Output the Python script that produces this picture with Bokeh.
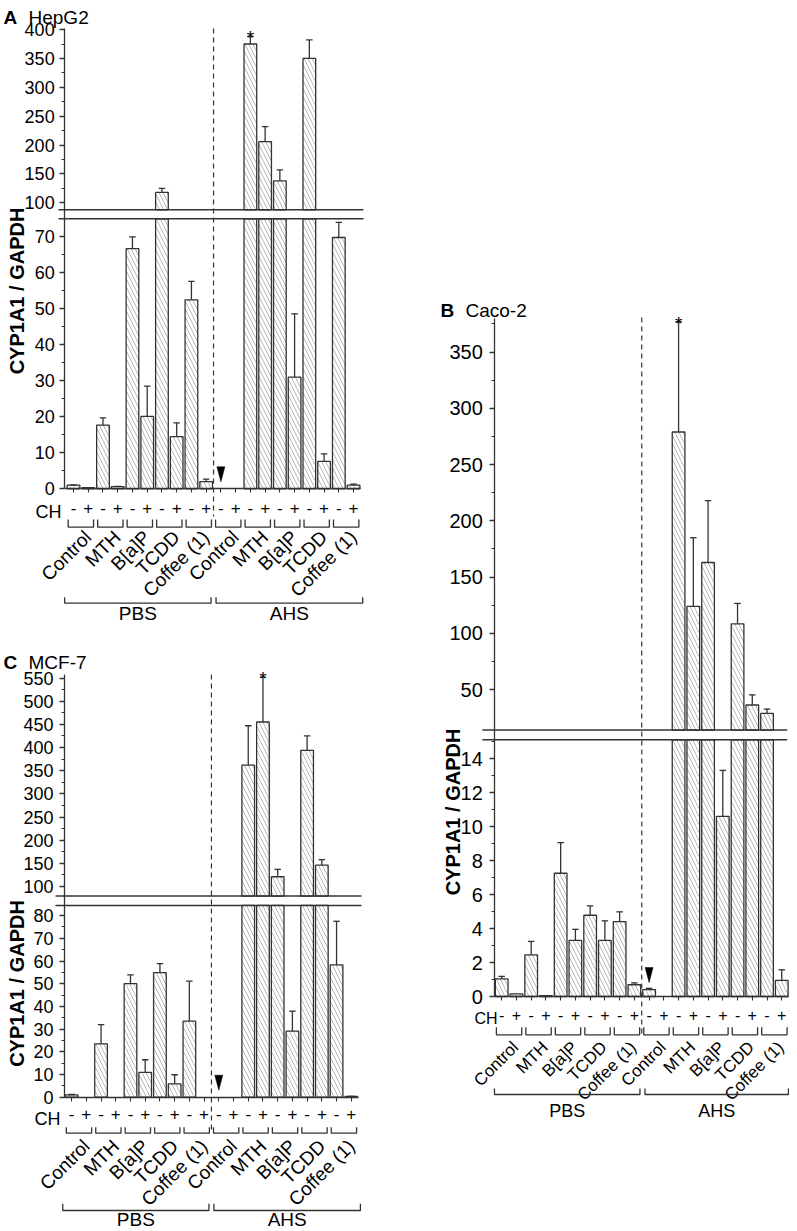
import math
from bokeh.plotting import figure
from bokeh.models import LinearAxis, FixedTicker, Range1d, Spacer
from bokeh.layouts import row, column
from bokeh.embed import file_html
from bokeh.resources import INLINE
from bokeh.core.properties import value

# ---------------- data ----------------
TREATMENTS = ["Control", "MTH", "B[a]P", "TCDD", "Coffee (1)"]
MEDIA = ["PBS", "AHS"]
CH_SIGNS = ["-", "+"]
CH_LABEL = "CH"
Y_LABEL = "CYP1A1 / GAPDH"

# bar order: PBS Control -, +, MTH -, +, B[a]P -, +, TCDD -, +, Coffee -, +, then the same for AHS
HEPG2_MEAN = [1.0, 0.3, 17.7, 0.6, 66.7, 20.1, 118, 14.5, 52.5, 2.0,
              0, 0, 375, 206, 138, 31, 350, 7.6, 69.8, 1.0]
HEPG2_ERR = [1.1, 0.35, 19.7, 0.7, 70.0, 28.5, 125, 18.3, 57.6, 2.7,
             0, 0, 388, 232, 157, 48.6, 382, 9.7, 74, 1.3]
HEPG2_TICKS_LOW = [0, 10, 20, 30, 40, 50, 60, 70]
HEPG2_TICKS_HIGH = [100, 150, 200, 250, 300, 350, 400]
HEPG2_MINOR_LOW = [5, 15, 25, 35, 45, 55, 65, 75]
HEPG2_MINOR_HIGH = [125, 175, 225, 275, 325, 375]
HEPG2_SIGNIF = [12]
HEPG2_ARROW = [10]

CACO2_MEAN = [1.04, 0.16, 2.45, 0.05, 7.25, 3.3, 4.78, 3.3, 4.41, 0.69,
              0.41, 0, 279, 124, 163, 10.6, 108.5, 36.3, 28.8, 0.95]
CACO2_ERR = [1.18, 0.16, 3.24, 0.05, 9.05, 3.95, 5.33, 4.45, 4.98, 0.8,
             0.48, 0, 377, 185, 218, 13.3, 126.6, 45.3, 32.7, 1.57]
CACO2_TICKS_LOW = [0, 2, 4, 6, 8, 10, 12, 14]
CACO2_TICKS_HIGH = [50, 100, 150, 200, 250, 300, 350]
CACO2_MINOR_LOW = [1, 3, 5, 7, 9, 11, 13, 15]
CACO2_MINOR_HIGH = [75, 125, 175, 225, 275, 325, 375]
CACO2_SIGNIF = [12]
CACO2_ARROW = [10]

MCF7_MEAN = [1.0, 0, 23.5, 0, 50.0, 10.9, 54.9, 5.9, 33.5, 0,
             0, 0, 362, 455, 121, 29.1, 394, 146, 58.3, 0.3]
MCF7_ERR = [1.2, 0, 32, 0, 53.9, 16.5, 58.8, 9.9, 51.1, 0,
            0, 0, 447, 552, 137, 37.9, 425, 158, 77.5, 0.4]
MCF7_TICKS_LOW = [0, 10, 20, 30, 40, 50, 60, 70, 80]
MCF7_TICKS_HIGH = [100, 150, 200, 250, 300, 350, 400, 450, 500, 550]
MCF7_MINOR_LOW = [5, 15, 25, 35, 45, 55, 65, 75]
MCF7_MINOR_HIGH = [125, 175, 225, 275, 325, 375, 425, 475, 525]
MCF7_SIGNIF = [13]
MCF7_ARROW = [10]

# ---------------- style / layout ----------------
FONT = "Liberation Sans"
INK = "#333333"

LAYOUT_A = dict(W=400, H=626, Fx=0, Fy=0, X0=73, S=14.74, Yb=488.3,
                lo_s=3.6, lo_max=75, gap=9, hi_min=88, hi_s=0.5777, axis_top=401,
                axis_x=-0.6, xaxis_end=19.47, break_x=(-1.02, 19.67),
                dash_top=28, dash_bot=516, ch_ry=511.7, ch_label_rx=61, sign_standoff=9,
                pb_top=519, pb_bot=526.7, lab_dx=0.48, lab_ry=533.5,
                grp=((-0.6, 9.33), (9.67, 19.62)), gb_top=596.7, gb_bot=602.7, gt_ry=613,
                t_rx=3, n_rx=28, t_ry=16.5, yl_rx=16, yl_ry=290.5, standoff=5,
                tick_fs="18px", ch_fs="18px", sign_fs="17px", lab_fs="19px", grp_fs="19px",
                title_fs="19px")

LAYOUT_C = dict(W=400, H=605, Fx=0, Fy=626, X0=71.1, S=14.72, Yb=1096.7,
                lo_s=2.27, lo_max=84.5, gap=9.3, hi_min=79.3, hi_s=0.4633, axis_top=558,
                axis_x=-0.48, xaxis_end=19.49, break_x=(-1.09, 19.69),
                dash_top=674, dash_bot=1130, ch_ry=1118.3, ch_label_rx=60, sign_standoff=7,
                pb_top=1126.7, pb_bot=1132.7, lab_dx=0.51, lab_ry=1142.5,
                grp=((-0.6, 9.33), (9.67, 19.62)), gb_top=1203.3, gb_bot=1210, gt_ry=1219,
                t_rx=3, n_rx=28, t_ry=662, yl_rx=16, yl_ry=983, standoff=6,
                tick_fs="18px", ch_fs="18px", sign_fs="17px", lab_fs="19px", grp_fs="19px",
                title_fs="19px")

LAYOUT_B = dict(W=397, H=855, Fx=400, Fy=272, X0=501.2, S=14.74, Yb=996,
                lo_s=17, lo_max=15.1, gap=9.7, hi_min=14, hi_s=1.125, axis_top=380,
                axis_x=-0.47, xaxis_end=19.49, break_x=(-1.31, 19.37),
                dash_top=317, dash_bot=1033, ch_ry=1018.3, ch_label_rx=497, sign_standoff=8,
                pb_top=1026.7, pb_bot=1034.3, lab_dx=0.44, lab_ry=1044,
                grp=((-0.49, 9.38), (9.72, 19.45)), gb_top=1088, gb_bot=1094, gt_ry=1110,
                t_rx=440, n_rx=465, t_ry=310, yl_rx=452.5, yl_ry=811.5, standoff=7,
                tick_fs="20px", ch_fs="16px", sign_fs="16px", lab_fs="17px", grp_fs="18px",
                title_fs="19px")


def make_panel(mean, err, t_lo, t_hi, m_lo, m_hi, signif, arrows, letter, name, c):
    S, X0, Yb = c["S"], c["X0"], c["Yb"]

    def ux(rx):
        return (rx - X0) / S

    def uy(ry):
        return Yb - ry

    lo_s, lo_max, gap, hi_min, hi_s = c["lo_s"], c["lo_max"], c["gap"], c["hi_min"], c["hi_s"]
    lo_top = lo_max * lo_s

    def disp(v):
        return v * lo_s if v <= lo_max else lo_top + gap + (v - hi_min) * hi_s

    x0 = ux(c["Fx"])
    y1 = Yb - c["Fy"]
    p = figure(width=c["W"], height=c["H"],
               x_range=Range1d(x0, x0 + c["W"] / S),
               y_range=Range1d(y1 - c["H"], y1),
               x_axis_type=None, y_axis_type=None,
               toolbar_location=None, output_backend="svg",
               min_border=0, outline_line_color=None)

    n = len(mean)
    # bars (split at the axis break)
    lx, ltop, hx, hbot, htop = [], [], [], [], []
    for i, v in enumerate(mean):
        if v <= 0:
            continue
        lx.append(i)
        ltop.append(min(disp(v), lo_top))
        if v > lo_max:
            hx.append(i)
            hbot.append(lo_top + gap)
            htop.append(disp(v))
    bar_kw = dict(width=0.86, fill_color="white", line_color=INK, line_width=1.3,
                  hatch_pattern="\\", hatch_color="#999999", hatch_weight=0.7, hatch_scale=8)
    p.vbar(x=lx, bottom=0, top=ltop, **bar_kw)
    if hx:
        p.vbar(x=hx, bottom=hbot, top=htop, **bar_kw)

    # error bars (upper only)
    ex, ey0, ey1 = [], [], []
    for i, (v, e) in enumerate(zip(mean, err)):
        if e > v:
            ex.append(i)
            ey0.append(disp(v))
            ey1.append(disp(e))
    p.segment(x0=ex, y0=ey0, x1=ex, y1=ey1, line_color=INK, line_width=1.3)
    p.segment(x0=[x - 0.22 for x in ex], y0=ey1, x1=[x + 0.22 for x in ex], y1=ey1,
              line_color=INK, line_width=1.3)

    # axis break lines
    bx0, bx1 = c["break_x"]
    p.segment(x0=[bx0, bx0], x1=[bx1, bx1], y0=[lo_top, lo_top + gap], y1=[lo_top, lo_top + gap],
              line_color=INK, line_width=1.5)

    # dashed separator between media
    sep = n // 2 - 0.5
    p.segment(x0=[sep], x1=[sep], y0=[uy(c["dash_top"])], y1=[uy(c["dash_bot"])],
              line_color=INK, line_width=1.2, line_dash="5 4")

    # y axis (broken scale, labels show real values)
    ticks = [round(disp(t), 3) for t in t_lo + t_hi]
    labels = {round(disp(t), 3): str(t) for t in t_lo + t_hi}
    minors = [round(disp(t), 3) for t in m_lo + m_hi]
    ya = LinearAxis(fixed_location=c["axis_x"],
                    ticker=FixedTicker(ticks=ticks, minor_ticks=minors),
                    major_label_overrides=labels,
                    bounds=(0, disp(c["axis_top"])),
                    axis_line_color=INK, axis_line_width=1.3,
                    major_tick_line_color=INK, major_tick_line_width=1.3,
                    minor_tick_line_color=INK, minor_tick_line_width=1.1,
                    major_tick_in=0, major_tick_out=5, minor_tick_in=0, minor_tick_out=3,
                    major_label_standoff=c["standoff"],
                    major_label_text_font=FONT, major_label_text_font_size=c["tick_fs"],
                    major_label_text_color="black")
    p.add_layout(ya, "left")

    # x axis at value 0, its tick labels are the CH - / + signs
    sign_labels = {i: CH_SIGNS[i % 2] for i in range(n)}
    xa = LinearAxis(fixed_location=0, ticker=FixedTicker(ticks=list(range(n)), minor_ticks=[]),
                    major_label_overrides=sign_labels,
                    bounds=(c["axis_x"], c["xaxis_end"]),
                    axis_line_color=INK, axis_line_width=1.3,
                    major_tick_line_color=INK, major_tick_line_width=1.1,
                    major_tick_in=0, major_tick_out=4, minor_tick_out=0,
                    major_label_standoff=c["sign_standoff"],
                    major_label_text_font=FONT, major_label_text_font_size=c["sign_fs"],
                    major_label_text_color="black")
    p.add_layout(xa, "below")

    txt = dict(text_font=value(FONT), text_color="black")

    # CH label
    ch_y = uy(c["ch_ry"])
    p.text(x=[ux(c["ch_label_rx"])], y=[ch_y], text=[CH_LABEL],
           text_align="right", text_baseline="middle", text_font_size=value(c["ch_fs"]), **txt)

    # pair brackets
    npairs = n // 2
    centers = [2 * k + 0.5 for k in range(npairs)]
    bt, bb = uy(c["pb_top"]), uy(c["pb_bot"])
    p.multi_line(xs=[[cx - 0.86, cx - 0.86, cx + 0.86, cx + 0.86] for cx in centers],
                 ys=[[bt, bb, bb, bt] for _ in centers], line_color=INK, line_width=1.3)

    # rotated treatment labels
    names = [TREATMENTS[k % len(TREATMENTS)] for k in range(npairs)]
    p.text(x=[cx + c["lab_dx"] for cx in centers], y=[uy(c["lab_ry"])] * npairs, text=names,
           angle=math.pi / 4, text_align="right", text_baseline="middle",
           text_font_size=value(c["lab_fs"]), **txt)

    # media brackets and labels
    gt, gb = uy(c["gb_top"]), uy(c["gb_bot"])
    p.multi_line(xs=[[a, a, b, b] for a, b in c["grp"]], ys=[[gt, gb, gb, gt] for _ in c["grp"]],
                 line_color=INK, line_width=1.3)
    p.text(x=[(a + b) / 2 for a, b in c["grp"]], y=[uy(c["gt_ry"])] * 2, text=MEDIA,
           text_align="center", text_baseline="middle", text_font_size=value(c["grp_fs"]), **txt)

    # significance stars
    p.text(x=signif, y=[disp(err[i]) - 1.5 for i in signif], text=["*"] * len(signif),
           text_align="center", text_baseline="alphabetic", text_font_size=value("19px"), **txt)

    # arrows
    p.patches(xs=[[i - 0.27, i + 0.27, i] for i in arrows],
              ys=[[disp(mean[i]) + 22, disp(mean[i]) + 22, disp(mean[i]) + 7] for i in arrows],
              fill_color="black", line_color="black", line_width=0.5)

    # panel title
    p.text(x=[ux(c["t_rx"])], y=[uy(c["t_ry"])], text=[letter], text_align="left",
           text_baseline="alphabetic", text_font_style="bold",
           text_font_size=value(c["title_fs"]), **txt)
    p.text(x=[ux(c["n_rx"])], y=[uy(c["t_ry"])], text=[name], text_align="left",
           text_baseline="alphabetic", text_font_size=value(c["title_fs"]), **txt)

    # y axis title
    p.text(x=[ux(c["yl_rx"])], y=[uy(c["yl_ry"])], text=[Y_LABEL], angle=math.pi / 2,
           text_align="center", text_baseline="middle", text_font_style="bold",
           text_font_size=value("20px"), **txt)
    return p


pA = make_panel(HEPG2_MEAN, HEPG2_ERR, HEPG2_TICKS_LOW, HEPG2_TICKS_HIGH, HEPG2_MINOR_LOW,
                HEPG2_MINOR_HIGH, HEPG2_SIGNIF, HEPG2_ARROW, "A", "HepG2", LAYOUT_A)
pC = make_panel(MCF7_MEAN, MCF7_ERR, MCF7_TICKS_LOW, MCF7_TICKS_HIGH, MCF7_MINOR_LOW,
                MCF7_MINOR_HIGH, MCF7_SIGNIF, MCF7_ARROW, "C", "MCF-7", LAYOUT_C)
pB = make_panel(CACO2_MEAN, CACO2_ERR, CACO2_TICKS_LOW, CACO2_TICKS_HIGH, CACO2_MINOR_LOW,
                CACO2_MINOR_HIGH, CACO2_SIGNIF, CACO2_ARROW, "B", "Caco-2", LAYOUT_B)

layout = row(column(pA, pC), column(Spacer(width=397, height=272), pB))
open("out.html", "w").write(file_html(layout, INLINE))
